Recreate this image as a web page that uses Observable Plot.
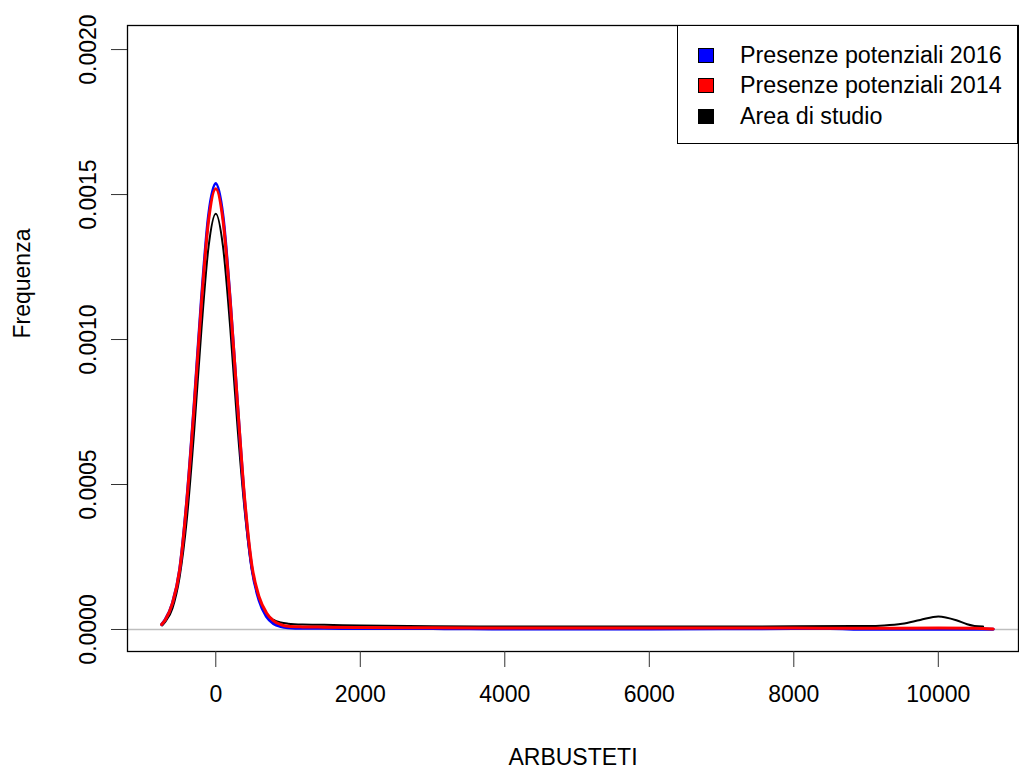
<!DOCTYPE html>
<html>
<head>
<meta charset="utf-8">
<script src="https://cdn.jsdelivr.net/npm/d3@7"></script>
<script src="https://cdn.jsdelivr.net/npm/@observablehq/plot@0.6"></script>
<style>
  html, body { margin: 0; padding: 0; background: #fff; }
  #wrap { position: relative; width: 1019px; height: 779px; font-family: "Liberation Sans", Arial, sans-serif; }
  #legend { position: absolute; left: 677px; top: 25px; width: 341px; height: 119px; border: 1px solid #000; background: #fff; box-sizing: border-box; }
  .row { position: absolute; left: 0; height: 30px; display: flex; align-items: center; font-size: 23.3px; color: #000; }
  .sw { width: 14px; height: 13px; border: 1px solid #000; margin-left: 20px; margin-right: 26px; }
</style>
</head>
<body>
<div id="wrap"><div id="chart"></div><div id="legend"></div></div>
<script>
// Series: kernel density estimates
const seriesNames = ["Presenze potenziali 2016", "Presenze potenziali 2014", "Area di studio"];
const seriesColors = ["#0000ff", "#ff0000", "#000000"];

const xBlue = [-750, -700, -600, -500, -400, -300, -200, -100, 0, 100, 200, 300, 400, 500, 600, 700, 800, 900, 1000, 1200, 1500, 2000, 3000, 4000, 6000, 8000, 8500, 9000, 10000, 10500, 10760];
const yBlue = [0.000017, 0.000034, 0.000091, 0.000207, 0.00045, 0.000775, 0.001135, 0.001428, 0.001538, 0.001425, 0.001135, 0.00078, 0.00044, 0.00021, 0.0001, 0.000045, 0.00002, 0.00001, 0.000006, 0.000004, 0.000004, 0.000003, 0.000003, 0.000002, 0.000002, 0.000003, 0.000003, 0.000001, 0.000001, 0.000001, 0.0000005];

const xRed = [-750, -700, -600, -500, -400, -300, -200, -100, 0, 100, 200, 300, 400, 500, 600, 700, 800, 900, 1000, 1200, 1500, 2000, 3000, 4000, 6000, 8000, 9000, 10000, 10500, 10760];
const yRed = [0.000017, 0.000033, 0.00009, 0.000205, 0.000445, 0.000765, 0.00112, 0.00141, 0.00152, 0.00141, 0.00113, 0.00078, 0.00045, 0.00022, 0.000112, 0.000058, 0.00003, 0.000017, 0.000011, 0.000009, 0.000008, 0.000007, 0.000006, 0.000005, 0.000005, 0.000005, 0.000004, 0.000005, 0.000004, 0.000002];

const xBlack = [-740, -700, -600, -500, -400, -300, -200, -100, 0, 100, 200, 300, 400, 500, 600, 700, 800, 900, 1000, 1200, 1500, 2000, 3000, 4000, 6000, 8000, 9000, 9250, 9500, 9750, 10000, 10250, 10400, 10500, 10620];
const yBlack = [0.000014, 0.000026, 0.000073, 0.000182, 0.000382, 0.000682, 0.00103, 0.00132, 0.001434, 0.00132, 0.00104, 0.0007, 0.00041, 0.000205, 0.000105, 0.000055, 0.000033, 0.000024, 0.00002, 0.000017, 0.000016, 0.000014, 0.000011, 0.00001, 0.00001, 0.000011, 0.000012, 0.000014, 0.00002, 0.000033, 0.000045, 0.000032, 0.000018, 0.000012, 0.00001];

const xTicks = [0, 2000, 4000, 6000, 8000, 10000];
const yTicks = [0, 0.0005, 0.001, 0.0015, 0.002];
const yTickLabels = ["0.0000", "0.0005", "0.0010", "0.0015", "0.0020"];
const xLabel = "ARBUSTETI";
const yLabel = "Frequenza";

const toRows = (xs, ys) => xs.map((x, i) => ({x, y: ys[i]}));
const blue = toRows(xBlue, yBlue);
const red = toRows(xRed, yRed);
const black = toRows(xBlack, yBlack);
const yTickRows = yTicks.map((v, i) => ({v, label: yTickLabels[i]}));

const FS = 23;
const chart = Plot.plot({
  width: 1019,
  height: 779,
  marginLeft: 127,
  marginRight: 1,
  marginTop: 25,
  marginBottom: 128,
  style: {fontFamily: "'Liberation Sans', Arial, sans-serif", background: "#fff", color: "#000"},
  x: {domain: [-1222, 11110], axis: null},
  y: {domain: [-0.0000759, 0.002083], axis: null},
  marks: [
    Plot.ruleY([0], {stroke: "#bebebe", strokeWidth: 1.5}),
    Plot.line(black, {x: "x", y: "y", stroke: seriesColors[2], strokeWidth: 2, curve: "monotone-x"}),
    Plot.line(blue, {x: "x", y: "y", stroke: seriesColors[0], strokeWidth: 3, curve: "monotone-x"}),
    Plot.line(red, {x: "x", y: "y", stroke: seriesColors[1], strokeWidth: 3, curve: "monotone-x"}),
    Plot.frame({stroke: "#000", strokeWidth: 1.3}),
    Plot.axisX(xTicks, {tickSize: 16, tickPadding: 18, fontSize: FS, label: null, stroke: "#333", tickFormat: d => String(d)}),
    Plot.axisY(yTicks, {tickSize: 16, label: null, stroke: "#333", tickFormat: () => ""}),
    Plot.text(yTickRows, {y: "v", text: "label", frameAnchor: "left", dx: -39, rotate: -90, fontSize: FS, textAnchor: "middle", lineAnchor: "middle", fill: "#000"}),
    Plot.text([xLabel], {frameAnchor: "bottom", dy: 106, fontSize: FS, lineAnchor: "middle", fill: "#000"}),
    Plot.text([yLabel], {frameAnchor: "left", dx: -105, rotate: -90, fontSize: FS, lineAnchor: "middle", fill: "#000"})
  ]
});
document.getElementById("chart").appendChild(chart);

const legend = document.getElementById("legend");
seriesNames.forEach((name, i) => {
  const row = document.createElement("div");
  row.className = "row";
  row.style.top = (14 + i * 30.5) + "px";
  const sw = document.createElement("div");
  sw.className = "sw";
  sw.style.background = seriesColors[i];
  const t = document.createElement("span");
  t.textContent = name;
  row.appendChild(sw);
  row.appendChild(t);
  legend.appendChild(row);
});
</script>
</body>
</html>
